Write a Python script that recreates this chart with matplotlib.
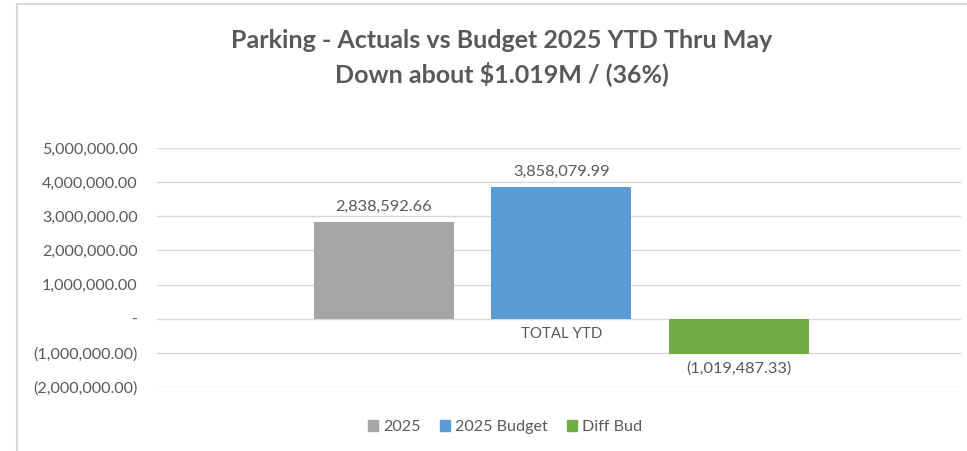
import matplotlib.pyplot as plt
from matplotlib.lines import Line2D
from matplotlib.patches import Patch

# Parking YTD figures thru May
series = ['2025', '2025 Budget', 'Diff Bud']
values = [2838592.66, 3858079.99, -1019487.33]
colors = ['#A5A5A5', '#5B9BD5', '#70AD47']
category = 'TOTAL YTD'
yticks = [-2000000, -1000000, 0, 1000000, 2000000, 3000000, 4000000, 5000000]

plt.rcParams['font.family'] = ['Lato', 'DejaVu Sans']
txt = '#595959'


def money(v):
    if v == 0:
        return '-'
    s = '{:,.2f}'.format(abs(v))
    return '(' + s + ')' if v < 0 else s


fig = plt.figure(figsize=(9.67, 4.51), dpi=100)
ax = fig.add_axes([157 / 967, 1 - 387 / 451, 804 / 967, 239 / 451])

# frame around chart area (left and top edges show)
fig.add_artist(Line2D([17 / 967, 17 / 967], [0, 1 - 4 / 451], color='#d9d9d9', lw=1.5,
                      transform=fig.transFigure))
fig.add_artist(Line2D([17 / 967, 1], [1 - 4 / 451, 1 - 4 / 451], color='#d9d9d9', lw=1.5,
                      transform=fig.transFigure))

width = 0.174
step = 0.221
offsets = [-step, 0, step]
for name, v, c, off in zip(series, values, colors, offsets):
    ax.bar(off + 0.003, v, width=width, color=c, label=name, zorder=3)
    if v >= 0:
        ax.text(off + 0.003, v + 230000, money(v), ha='center', va='bottom',
                fontsize=11.8, color=txt)
    else:
        ax.text(off + 0.003, v - 230000, money(v), ha='center', va='top',
                fontsize=11.8, color=txt)

ax.set_xlim(-0.5, 0.5)
ax.set_ylim(-2000000, 5000000)
ax.set_yticks(yticks)
ax.set_yticklabels([money(t) for t in yticks])
ax.set_xticks([])
ax.text(0.003, -250000, category, ha='center', va='top', fontsize=10.8, color=txt)
ax.tick_params(axis='y', length=0, labelsize=11.6, labelcolor=txt, pad=14)
ax.grid(axis='y', color='#d9d9d9', lw=1, zorder=0)
for s in ax.spines.values():
    s.set_visible(False)

fig.text(502 / 967, 1 - 40 / 451, 'Parking - Actuals vs Budget 2025 YTD Thru May',
         ha='center', va='center', fontsize=18, fontweight='bold', color=txt)
fig.text(502 / 967, 1 - 74 / 451, 'Down about $1.019M / (36%)',
         ha='center', va='center', fontsize=18, fontweight='bold', color=txt)

handles = [Patch(color=c, label=n) for n, c in zip(series, colors)]
fig.legend(handles=handles, loc='center', bbox_to_anchor=(505 / 967, 1 - 427 / 451),
           ncol=3, frameon=False, fontsize=11.6, labelcolor=txt,
           handlelength=0.62, handleheight=0.62, handletextpad=0.3, columnspacing=1.2)

fig.savefig('out.png', dpi=100, facecolor='white')
